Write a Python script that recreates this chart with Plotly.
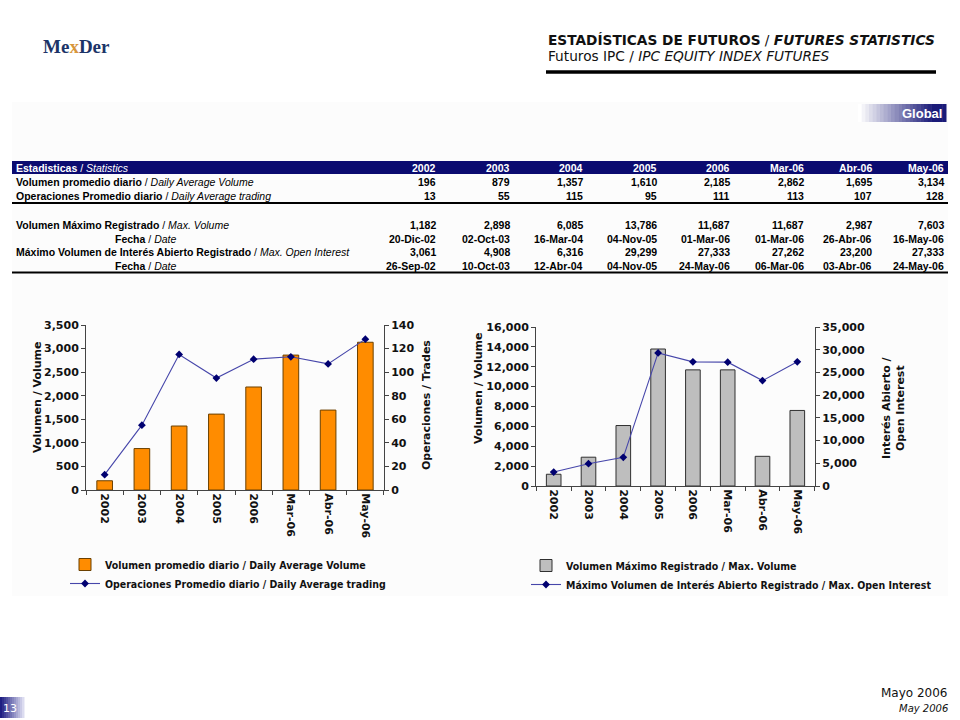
import plotly.graph_objects as go

# ---------------- data ----------------
periods = ["2002", "2003", "2004", "2005", "2006", "Mar-06", "Abr-06", "May-06"]
daily_avg_volume = [196, 879, 1357, 1610, 2185, 2862, 1695, 3134]
daily_avg_trading = [13, 55, 115, 95, 111, 113, 107, 128]
max_volume = [1182, 2898, 6085, 13786, 11687, 11687, 2987, 7603]
max_volume_date = ["20-Dic-02", "02-Oct-03", "16-Mar-04", "04-Nov-05", "01-Mar-06", "01-Mar-06", "26-Abr-06", "16-May-06"]
max_open_interest = [3061, 4908, 6316, 29299, 27333, 27262, 23200, 27333]
max_oi_date = ["26-Sep-02", "10-Oct-03", "12-Abr-04", "04-Nov-05", "24-May-06", "06-Mar-06", "03-Abr-06", "24-May-06"]

W, H = 960, 720
def px(x): return x / W
def py(y): return 1 - y / H

VERD = "DejaVu Sans, Verdana, sans-serif"
COND = "DejaVu Sans Condensed, DejaVu Sans, sans-serif"
NARROW = "Liberation Sans Narrow, Arial Narrow, Liberation Sans, Arial, sans-serif"
NAVY = "#0b0b70"

fig = go.Figure()

# ---------------- charts ----------------
fig.add_trace(go.Bar(x=periods, y=daily_avg_volume, name="Volumen promedio diario / Daily Average Volume",
                     marker=dict(color="#FF8C00", line=dict(color="#6b4000", width=1)),
                     xaxis="x", yaxis="y", legend="legend"))
fig.add_trace(go.Scatter(x=periods, y=daily_avg_trading, name="Operaciones Promedio diario / Daily Average trading",
                         mode="lines+markers", line=dict(color="#4646aa", width=1.1),
                         marker=dict(symbol="diamond", size=6, color="#000070"),
                         xaxis="x", yaxis="y2", legend="legend"))
fig.add_trace(go.Bar(x=periods, y=max_volume, name="Volumen Máximo Registrado / Max. Volume",
                     marker=dict(color="#BEBEBE", line=dict(color="#303030", width=1)),
                     xaxis="x2", yaxis="y3", legend="legend2"))
fig.add_trace(go.Scatter(x=periods, y=max_open_interest, name="Máximo Volumen de Interés Abierto Registrado / Max. Open Interest",
                         mode="lines+markers", line=dict(color="#4646aa", width=1.1),
                         marker=dict(symbol="diamond", size=6, color="#000070"),
                         xaxis="x2", yaxis="y4", legend="legend2"))

tickf = dict(family=VERD, size=11, color="#111", weight="bold")
axcommon = dict(showgrid=False, zeroline=False, showline=True, linecolor="#444", linewidth=1,
                ticks="outside", ticklen=4, tickcolor="#444", tickfont=tickf, automargin=False)

legf = dict(family=COND, size=10.5, color="#111", weight="bold")

fig.update_layout(
    width=W, height=H, margin=dict(l=0, r=0, t=0, b=0, autoexpand=False),
    paper_bgcolor="white", plot_bgcolor="rgba(0,0,0,0)",
    bargap=0.58, showlegend=True,
    xaxis=dict(domain=[px(86), px(384)], anchor="y", type="category", tickangle=90,
               tickson="boundaries", **axcommon),
    yaxis=dict(domain=[py(490), py(325)], anchor="x", range=[0, 3500], dtick=500,
               tickformat=",d", **axcommon),
    yaxis2=dict(overlaying="y", anchor="x", side="right", range=[0, 140], dtick=20, **axcommon),
    xaxis2=dict(domain=[px(536), px(815)], anchor="y3", type="category", tickangle=90,
                tickson="boundaries", **axcommon),
    yaxis3=dict(domain=[py(486), py(327)], anchor="x2", range=[0, 16000], dtick=2000,
                tickformat=",d", **axcommon),
    yaxis4=dict(overlaying="y3", anchor="x2", side="right", range=[0, 35000], dtick=5000,
                tickformat=",d", **axcommon),
    legend=dict(x=px(65), y=py(550), xanchor="left", yanchor="top", bgcolor="rgba(0,0,0,0)",
                font=legf, itemwidth=30, tracegroupgap=2, traceorder="normal"),
    legend2=dict(x=px(526), y=py(551), xanchor="left", yanchor="top", bgcolor="rgba(0,0,0,0)",
                 font=legf, itemwidth=30, tracegroupgap=2, traceorder="normal"),
)

shapes = []
ann = []

# panel background
shapes.append(dict(type="rect", xref="paper", yref="paper", x0=px(12), x1=px(948), y0=py(596), y1=py(102),
                   fillcolor="#fcfcfc", line=dict(width=0), layer="below"))

# Global badge gradient
nstep = 24
gx0, gx1 = 858, 946
for i in range(nstep):
    t = min(1, (i / (nstep - 1)) * 1.15)
    r = int(255 + (26 - 255) * t)
    g = int(255 + (26 - 255) * t)
    b = int(255 + (120 - 255) * t)
    xa = gx0 + (gx1 - gx0) * i / nstep
    xb = gx0 + (gx1 - gx0) * (i + 1) / nstep + 0.5
    shapes.append(dict(type="rect", xref="paper", yref="paper", x0=px(xa), x1=px(xb), y0=py(122), y1=py(104),
                       fillcolor=f"rgb({r},{g},{b})", line=dict(width=0), layer="below"))
ann.append(dict(text="<b>Global</b>", x=px(944), y=py(113), xref="paper", yref="paper", xanchor="right",
                yanchor="middle", showarrow=False, font=dict(family="Liberation Sans, Arial", size=13, color="white")))

# page number box gradient
for i in range(12):
    t = i / 11
    r = int(30 + (220 - 30) * t)
    g = int(30 + (220 - 30) * t)
    b = int(130 + (240 - 130) * t)
    xa = 24 * i / 12
    xb = 24 * (i + 1) / 12 + 0.5
    shapes.append(dict(type="rect", xref="paper", yref="paper", x0=px(xa), x1=px(xb), y0=py(718), y1=py(697),
                       fillcolor=f"rgb({r},{g},{b})", line=dict(width=0), layer="below"))
ann.append(dict(text="13", x=px(10), y=py(708), xref="paper", yref="paper", xanchor="center", yanchor="middle",
                showarrow=False, font=dict(family=VERD, size=11, color="white")))

# header
ann.append(dict(text="<b>ESTADÍSTICAS DE FUTUROS</b> / <b><i>FUTURES STATISTICS</i></b>", x=px(546), y=py(40),
                xref="paper", yref="paper", xanchor="left", yanchor="middle", showarrow=False,
                font=dict(family=VERD, size=13.7, color="#111")))
ann.append(dict(text="Futuros IPC / <i>IPC EQUITY INDEX FUTURES</i>", x=px(546), y=py(56),
                xref="paper", yref="paper", xanchor="left", yanchor="middle", showarrow=False,
                font=dict(family=VERD, size=13.7, color="#111")))
shapes.append(dict(type="line", xref="paper", yref="paper", x0=px(546), x1=px(936), y0=py(72), y1=py(72),
                   line=dict(color="black", width=3.5)))

# logo
ann.append(dict(text="<span style='color:#1c3468'>Me</span><span style='color:#d8963c'>x</span><span style='color:#1c3468'>Der</span>",
                x=px(76), y=py(46), xref="paper", yref="paper", xanchor="center", yanchor="middle", showarrow=False,
                font=dict(family="Liberation Serif, DejaVu Serif, serif", size=19, color="#1c3468", weight="bold")))

# footer
ann.append(dict(text="Mayo 2006", x=px(950), y=py(693), xref="paper", yref="paper", xanchor="right",
                yanchor="middle", showarrow=False, font=dict(family=VERD, size=12, color="#111")))
ann.append(dict(text="<i>May 2006</i>", x=px(950), y=py(708), xref="paper", yref="paper", xanchor="right",
                yanchor="middle", showarrow=False, font=dict(family=VERD, size=10, color="#111")))

# ---------------- table ----------------
col_right = [437, 511, 584, 658, 731, 805, 873, 945]
TS = 10.5

shapes.append(dict(type="rect", xref="paper", yref="paper", x0=px(12), x1=px(948), y0=py(174), y1=py(161),
                   fillcolor=NAVY, line=dict(width=0)))
for yline in (203, 272.5):
    shapes.append(dict(type="line", xref="paper", yref="paper", x0=px(12), x1=px(948), y0=py(yline), y1=py(yline),
                       line=dict(color="black", width=2)))

def t_ann(text, x, y, anchor="left", color="#000"):
    ann.append(dict(text=text, x=px(x), y=py(y), xref="paper", yref="paper", xanchor=anchor, yanchor="middle",
                    showarrow=False, font=dict(family=NARROW, size=TS, color=color)))

t_ann("<b>Estadisticas</b> / <i>Statistics</i>", 14, 168, color="white")
for i, p in enumerate(periods):
    t_ann(f"<b>{p}</b>", col_right[i] + 1, 168, anchor="right", color="white")

row_labels = [
    ("<b>Volumen promedio diario</b> / <i>Daily Average Volume</i>", 14, 182, [f"{v:,}" for v in daily_avg_volume]),
    ("<b>Operaciones Promedio diario</b> / <i>Daily Average trading</i>", 14, 196, [f"{v:,}" for v in daily_avg_trading]),
    ("<b>Volumen Máximo Registrado</b> / <i>Max. Volume</i>", 14, 225, [f"{v:,}" for v in max_volume]),
    ("<b>Fecha</b> / <i>Date</i>", 113, 238.5, max_volume_date),
    ("<b>Máximo Volumen de Interés Abierto Registrado</b> / <i>Max. Open Interest</i>", 14, 252, [f"{v:,}" for v in max_open_interest]),
    ("<b>Fecha</b> / <i>Date</i>", 113, 265.5, max_oi_date),
]
for label, lx, ly, vals in row_labels:
    t_ann(label, lx, ly)
    for i, v in enumerate(vals):
        t_ann(f"<b>{v}</b>", col_right[i] + 1, ly, anchor="right")

# axis titles
titlef = dict(family=VERD, size=11, color="#111", weight="bold")
ann.append(dict(text="Volumen / Volume", x=px(37), y=py(397), xref="paper", yref="paper", textangle=-90,
                showarrow=False, xanchor="center", yanchor="middle", font=titlef))
ann.append(dict(text="Operaciones / Trades", x=px(426), y=py(405), xref="paper", yref="paper", textangle=-90,
                showarrow=False, xanchor="center", yanchor="middle", font=titlef))
ann.append(dict(text="Volumen / Volume", x=px(478), y=py(388), xref="paper", yref="paper", textangle=-90,
                showarrow=False, xanchor="center", yanchor="middle", font=titlef))
ann.append(dict(text="Interés Abierto /<br>Open Interest", x=px(893), y=py(408), xref="paper", yref="paper",
                textangle=-90, showarrow=False, xanchor="center", yanchor="middle", font=titlef))

fig.update_layout(shapes=shapes, annotations=ann)
fig.write_html("out.html", config={"displayModeBar": False},
               post_script="document.body.style.margin='0';document.body.style.overflow='hidden';")
